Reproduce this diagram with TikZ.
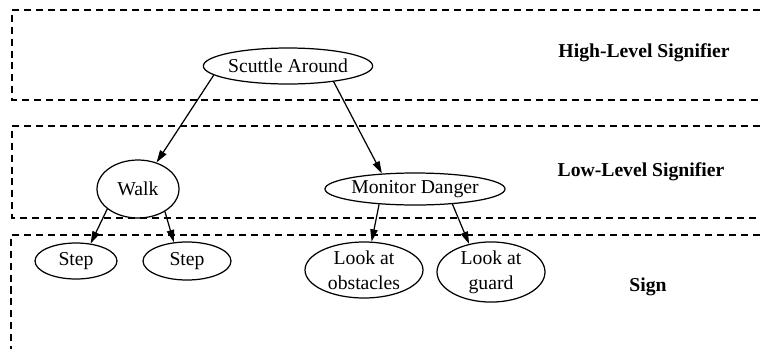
\documentclass[tikz,border=0pt]{standalone}
\usepackage{fontspec}
\setmainfont{Liberation Serif}
\usetikzlibrary{arrows.meta,shapes.geometric}
\tikzset{
  layer/.style={line width=0.7pt, dash pattern=on 4pt off 2.8pt},
  act/.style={draw, ellipse, line width=0.7pt, inner sep=0pt, align=center,
    font=\fontsize{11.2}{14}\selectfont},
  lvl/.style={font=\fontsize{11.2}{14}\selectfont\bfseries},
  link/.style={line width=0.7pt, -{Triangle[length=7pt,width=4.2pt]}}
}

\begin{document}
\begin{tikzpicture}[x=0.02cm, y=-0.02cm]
\useasboundingbox (0,0) rectangle (760,349);
% layers
\draw[layer] (760,10) -- (12,10) -- (12,100) -- (760,100);
\draw[layer] (760,126) -- (12,126) -- (12,218) -- (760,218);
\draw[layer] (760,235) -- (11,235) -- (11,349);
\node[lvl] (high) at (644,53) {High-Level Signifier};
\node[lvl] (low) at (641,172) {Low-Level Signifier};
\node[lvl] (sign) at (648,287) {Sign};
% signifiers and signs
\node[act, minimum width=3.2cm, minimum height=0.72cm] (scuttle) at (288,66) {Scuttle Around};
\node[act, minimum width=1.64cm, minimum height=1.16cm] (walk) at (138,189) {Walk};
\node[act, minimum width=3.2cm, minimum height=0.64cm] (monitor) at (415,189) {Monitor Danger};
\node[act, minimum width=1.64cm, minimum height=0.72cm] (stepa) at (76,261) {Step};
\node[act, minimum width=1.76cm, minimum height=0.76cm] (stepb) at (187,261) {Step};
\node[act, minimum width=2.36cm, minimum height=1.12cm] (obst) at (364,270) {Look at\\obstacles};
\node[act, minimum width=2.16cm, minimum height=1.16cm] (guard) at (491,272) {Look at\\guard};
% links
\draw[link] (scuttle.187) -- (walk.55);
\draw[link] (scuttle.341) -- (monitor.155);
\draw[link] (walk.213) -- (stepa.50);
\draw[link] (walk.320) -- (stepb.125);
\draw[link] (monitor.203) -- (obst.75);
\draw[link] (monitor.338) -- (guard.128);
\end{tikzpicture}
\end{document}
